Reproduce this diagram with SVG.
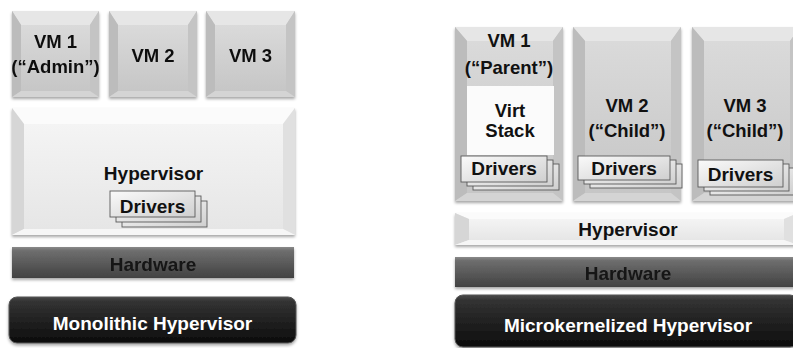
<svg xmlns="http://www.w3.org/2000/svg" width="793" height="348" viewBox="0 0 793 348">
  <defs>
    <linearGradient id="gFaceVM" x1="0" y1="0" x2="0" y2="1">
      <stop offset="0" stop-color="#dadada"/>
      <stop offset="1" stop-color="#c6c6c6"/>
    </linearGradient>
    <linearGradient id="gFaceLight" x1="0" y1="0" x2="0" y2="1">
      <stop offset="0" stop-color="#f4f4f4"/>
      <stop offset="1" stop-color="#e6e6e6"/>
    </linearGradient>
    <linearGradient id="gDrv" x1="0" y1="0" x2="1" y2="1">
      <stop offset="0" stop-color="#fafafa"/>
      <stop offset="1" stop-color="#cfcfcf"/>
    </linearGradient>
    <linearGradient id="gHw" x1="0" y1="0" x2="0" y2="1">
      <stop offset="0" stop-color="#8a8a8a"/>
      <stop offset="0.12" stop-color="#6e6e6e"/>
      <stop offset="1" stop-color="#424242"/>
    </linearGradient>
    <linearGradient id="gBlack" x1="0" y1="0" x2="0" y2="1">
      <stop offset="0" stop-color="#4a4a4a"/>
      <stop offset="0.1" stop-color="#333"/>
      <stop offset="1" stop-color="#0c0c0c"/>
    </linearGradient>
    <filter id="shadow" x="-5%" y="-5%" width="110%" height="125%">
      <feDropShadow dx="0" dy="2" stdDeviation="1.5" flood-color="#000" flood-opacity="0.35"/>
    </filter>
  </defs>
  <style>
    text { font-family: "Liberation Sans", Arial, sans-serif; font-weight: bold; text-anchor: middle; }
    .lbl { font-size: 18.5px; fill: #111; }
    .big { font-size: 19px; fill: #111; }
    .hw { font-size: 19px; fill: #161616; }
    .wt { font-size: 19px; fill: #fff; }
    .vm .base { fill: #c8c8c8; }
    .vm .t { fill: #e6e6e6; }
    .vm .l { fill: #bcbcbc; }
    .vm .r { fill: #c4c4c4; }
    .vm .b { fill: #d4d4d4; }
    .vm .f { fill: url(#gFaceVM); }
    .lt .base { fill: #eeeeee; }
    .lt .t { fill: #fbfbfb; }
    .lt .l { fill: #d6d6d6; }
    .lt .r { fill: #e0e0e0; }
    .lt .b { fill: #f6f6f6; }
    .lt .f { fill: url(#gFaceLight); }
    .drv rect { fill: url(#gDrv); stroke: #5a5a5a; stroke-width: 0.9; }
    .hwbar { fill: url(#gHw); }
    .blk { fill: url(#gBlack); stroke: #555; stroke-width: 1; }
  </style>

  <!-- ===== Monolithic hypervisor stack ===== -->
  <g id="m-vm1" class="vm" filter="url(#shadow)">
    <rect class="base" x="12" y="11" width="87" height="86"/>
    <polygon class="t" points="12,11 99,11 90,25 21,25"/>
    <polygon class="l" points="12,11 21,25 21,91 12,97"/>
    <polygon class="r" points="99,11 99,97 90,91 90,25"/>
    <polygon class="b" points="12,97 99,97 90,91 21,91"/>
    <rect class="f" x="21" y="25" width="69" height="66"/>
    <text class="lbl" x="55.5" y="48">VM 1</text>
    <text class="lbl" x="55.5" y="73">(“Admin”)</text>
  </g>
  <g id="m-vm2" class="vm" filter="url(#shadow)">
    <rect class="base" x="109" y="11" width="88" height="86"/>
    <polygon class="t" points="109,11 197,11 188,25 118,25"/>
    <polygon class="l" points="109,11 118,25 118,91 109,97"/>
    <polygon class="r" points="197,11 197,97 188,91 188,25"/>
    <polygon class="b" points="109,97 197,97 188,91 118,91"/>
    <rect class="f" x="118" y="25" width="70" height="66"/>
    <text class="lbl" x="153" y="62">VM 2</text>
  </g>
  <g id="m-vm3" class="vm" filter="url(#shadow)">
    <rect class="base" x="206" y="11" width="89" height="86"/>
    <polygon class="t" points="206,11 295,11 286,25 215,25"/>
    <polygon class="l" points="206,11 215,25 215,91 206,97"/>
    <polygon class="r" points="295,11 295,97 286,91 286,25"/>
    <polygon class="b" points="206,97 295,97 286,91 215,91"/>
    <rect class="f" x="215" y="25" width="71" height="66"/>
    <text class="lbl" x="250.5" y="62">VM 3</text>
  </g>
  <g id="m-hypervisor" class="lt">
    <g filter="url(#shadow)">
      <rect class="base" x="12" y="108" width="283" height="127"/>
      <polygon class="t" points="12,108 295,108 283,124 24,124"/>
      <polygon class="l" points="12,108 24,124 24,229 12,235"/>
      <polygon class="r" points="295,108 295,235 283,229 283,124"/>
      <polygon class="b" points="12,235 295,235 283,229 24,229"/>
      <rect class="f" x="24" y="124" width="259" height="105"/>
    </g>
    <text class="big" x="153.5" y="180">Hypervisor</text>
    <g id="m-drivers" class="drv">
      <rect x="122" y="201" width="85" height="26"/>
      <rect x="116" y="196" width="85" height="26"/>
      <rect x="110" y="191" width="85" height="26"/>
      <text class="big" x="152.5" y="213">Drivers</text>
    </g>
  </g>
  <g id="m-hardware" filter="url(#shadow)">
    <rect class="hwbar" x="12" y="247" width="282" height="31"/>
    <text class="hw" x="153" y="271">Hardware</text>
  </g>
  <g id="m-title">
    <rect class="blk" x="9" y="297" width="287" height="46" rx="8" filter="url(#shadow)"/>
    <text class="wt" x="152.5" y="330">Monolithic Hypervisor</text>
  </g>

  <!-- ===== Microkernelized hypervisor stack ===== -->
  <g id="k-vm1" class="vm">
    <g filter="url(#shadow)">
      <rect class="base" x="455" y="27" width="108" height="174"/>
      <polygon class="t" points="455,27 563,27 553,41 467,41"/>
      <polygon class="l" points="455,27 467,41 467,193 455,201"/>
      <polygon class="r" points="563,27 563,201 553,193 553,41"/>
      <polygon class="b" points="455,201 563,201 553,193 467,193"/>
      <rect class="f" x="467" y="41" width="86" height="152"/>
      <rect x="467" y="86" width="87" height="69" fill="#fbfbfb"/>
    </g>
    <text class="lbl" x="509" y="47">VM 1</text>
    <text class="lbl" x="509" y="74">(“Parent”)</text>
    <text class="lbl" x="510" y="116.5">Virt</text>
    <text class="lbl" x="510" y="137">Stack</text>
    <g id="k-drivers1" class="drv">
      <rect x="473" y="164" width="86" height="26"/>
      <rect x="467" y="160" width="86" height="26"/>
      <rect x="461" y="156" width="86" height="26"/>
      <text class="big" x="504" y="175">Drivers</text>
    </g>
  </g>
  <g id="k-vm2" class="vm">
    <g filter="url(#shadow)">
      <rect class="base" x="573" y="27" width="108" height="174"/>
      <polygon class="t" points="573,27 681,27 671,41 585,41"/>
      <polygon class="l" points="573,27 585,41 585,193 573,201"/>
      <polygon class="r" points="681,27 681,201 671,193 671,41"/>
      <polygon class="b" points="573,201 681,201 671,193 585,193"/>
      <rect class="f" x="585" y="41" width="86" height="152"/>
    </g>
    <text class="lbl" x="627" y="112">VM 2</text>
    <text class="lbl" x="627" y="137">(“Child”)</text>
    <g id="k-drivers2" class="drv">
      <rect x="590" y="164" width="92" height="24"/>
      <rect x="584" y="160" width="92" height="24"/>
      <rect x="578" y="156" width="92" height="24"/>
      <text class="big" x="624" y="175">Drivers</text>
    </g>
  </g>
  <g id="k-vm3" class="vm">
    <g filter="url(#shadow)">
      <rect class="base" x="692" y="27" width="108" height="174"/>
      <polygon class="t" points="692,27 800,27 790,41 704,41"/>
      <polygon class="l" points="692,27 704,41 704,193 692,201"/>
      <polygon class="r" points="800,27 800,201 790,193 790,41"/>
      <polygon class="b" points="692,201 800,201 790,193 704,193"/>
      <rect class="f" x="704" y="41" width="86" height="152"/>
    </g>
    <text class="lbl" x="745" y="112">VM 3</text>
    <text class="lbl" x="745" y="137">(“Child”)</text>
    <g id="k-drivers3" class="drv">
      <rect x="710" y="168" width="85" height="27"/>
      <rect x="704" y="164" width="85" height="27"/>
      <rect x="698" y="160" width="85" height="27"/>
      <text class="big" x="740.5" y="181">Drivers</text>
    </g>
  </g>
  <g id="k-hypervisor" class="lt">
    <g filter="url(#shadow)">
      <rect class="base" x="455" y="213" width="343" height="32"/>
      <polygon class="t" points="455,213 798,213 784,219 469,219"/>
      <polygon class="l" points="455,213 469,219 469,240 455,245"/>
      <polygon class="r" points="798,213 798,245 784,240 784,219"/>
      <polygon class="b" points="455,245 798,245 784,240 469,240"/>
      <rect class="f" x="469" y="219" width="315" height="21"/>
    </g>
    <text class="big" x="628" y="236">Hypervisor</text>
  </g>
  <g id="k-hardware" filter="url(#shadow)">
    <rect class="hwbar" x="455" y="257" width="343" height="30"/>
    <text class="hw" x="628" y="280">Hardware</text>
  </g>
  <g id="k-title">
    <rect class="blk" x="455" y="295" width="343" height="52" rx="8" filter="url(#shadow)"/>
    <text class="wt" x="628" y="332">Microkernelized Hypervisor</text>
  </g>

  <!-- no connectors in this layered diagram -->
  <g id="connectors"/>
</svg>
